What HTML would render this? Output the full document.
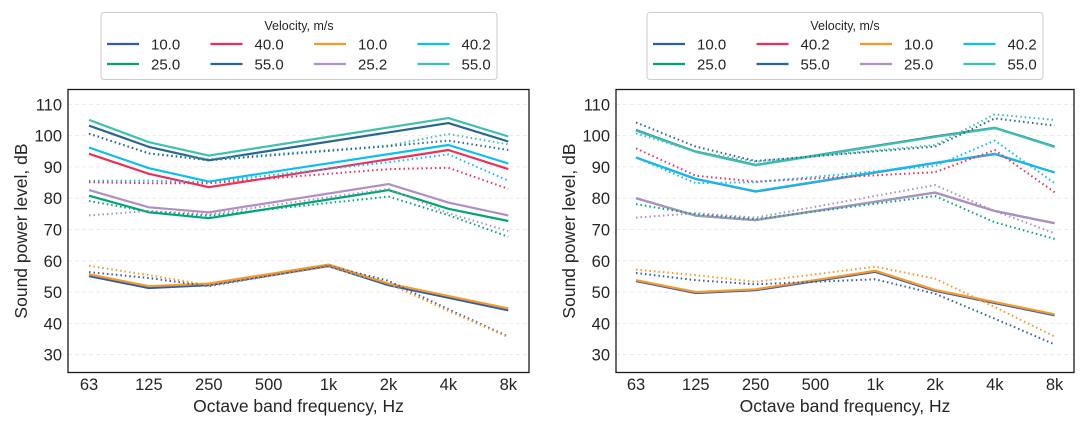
<!DOCTYPE html>
<html><head><meta charset="utf-8"><style>
html,body{margin:0;padding:0;background:#fff;}
svg{display:block;font-family:"Liberation Sans",Arial,sans-serif;}
</style></head><body>
<svg id="s" width="1092" height="423" viewBox="0 0 1092 423" xmlns="http://www.w3.org/2000/svg"></svg>
<script>
const S=document.getElementById('s');let h='';
const C={b:'#2f5ea8',g:'#00a676',r:'#ee3058',d:'#2b6592',o:'#f7992a',p:'#b08fc7',c:'#0abff2',t:'#3ec1b0'};
const F=['63','125','250','500','1k','2k','4k','8k'];
function Y(v){return 104.3+(110-v)*3.13;}
function plot(ax0,ax1,x63,dx,series,leg,lx){
  h+=`<rect x="${ax0}" y="89.5" width="${ax1-ax0}" height="283" fill="#fff"/>`;
  for(let v=30;v<=110;v+=10){h+=`<line x1="${ax0}" x2="${ax1}" y1="${Y(v)}" y2="${Y(v)}" stroke="#e6e6e6" stroke-width="0.8" stroke-dasharray="4,3"/>`;
    h+=`<text x="${ax0-6}" y="${Y(v)+6}" font-size="16.5" text-anchor="end" fill="#262626">${v}</text>`;}
  F.forEach((f,i)=>{h+=`<text x="${x63+i*dx}" y="390" font-size="16.5" text-anchor="middle" fill="#262626">${f}</text>`;});
  series.forEach(s=>{const pts=s[2].map(p=>`${(x63+p[0]*dx).toFixed(1)},${Y(p[1]).toFixed(1)}`).join(' ');
    h+=`<polyline points="${pts}" fill="none" stroke="${C[s[0]]}" stroke-width="${s[1]?2:2.2}" ${s[1]?'stroke-dasharray="1.5,3" stroke-linecap="butt"':''} stroke-linejoin="round"/>`;});
  h+=`<rect x="${ax0}" y="89.5" width="${ax1-ax0}" height="283" fill="none" stroke="#1a1a1a" stroke-width="1.3"/>`;
  h+=`<text x="${(ax0+ax1)/2}" y="412" font-size="17.5" text-anchor="middle" fill="#262626">Octave band frequency, Hz</text>`;
  h+=`<text transform="translate(${ax0-41},231) rotate(-90)" font-size="17.5" text-anchor="middle" fill="#262626">Sound power level, dB</text>`;
  h+=`<rect x="${lx}" y="12.5" width="396" height="67" rx="3" fill="#fff" stroke="#cccccc"/>`;
  h+=`<text x="${lx+198}" y="30" font-size="12.5" text-anchor="middle" fill="#262626">Velocity, m/s</text>`;
  leg.forEach((l,i)=>{const col=Math.floor(i/2),row=i%2;const x=lx+6+col*103.5,y=44+row*20;
    h+=`<line x1="${x}" x2="${x+32}" y1="${y}" y2="${y}" stroke="${C[l[0]]}" stroke-width="2.2"/>`;
    h+=`<text x="${x+44}" y="${y+5.5}" font-size="15" fill="#262626">${l[1]}</text>`;});
}
const L=[
['t',0,[[0,105],[1,97.9],[2,93.6],[6,105.6],[7,99.7]]],
['d',0,[[0,103.2],[1,96.4],[2,92.1],[6,104],[7,98.1]]],
['c',0,[[0,96.2],[1,89.6],[2,85.3],[6,97],[7,91.1]]],
['r',0,[[0,94.2],[1,87.8],[2,83.5],[6,95.4],[7,89.3]]],
['p',0,[[0,82.6],[1,77.1],[2,75.5],[5,84.5],[6,78.6],[7,74.5]]],
['g',0,[[0,80.8],[1,75.5],[2,73.6],[5,82.6],[6,76.6],[7,72.7]]],
['t',1,[[0,100.6],[1,94.3],[2,92.5],[5,96.8],[6,100.5],[7,97.2]]],
['d',1,[[0,100.6],[1,94.3],[2,92.1],[5,96.6],[6,98.4],[7,95.4]]],
['c',1,[[0,85.6],[1,85.6],[2,85.1],[5,91.5],[6,94],[7,85.6]]],
['r',1,[[0,85.1],[1,84.8],[2,84.8],[5,89.3],[6,89.7],[7,83]]],
['p',1,[[0,74.5],[1,75.9],[2,74.9],[5,83],[6,75.2],[7,69.5]]],
['g',1,[[0,79.1],[1,75.7],[2,74.4],[5,80.5],[6,74.6],[7,67.7]]],
['b',0,[[0,55.1],[1,51.3],[2,52.2],[4,58.3],[5,52.2],[7,44.2]]],
['o',0,[[0,55.7],[1,51.9],[2,52.7],[4,58.8],[5,52.7],[7,44.8]]],
['b',1,[[0,56.4],[1,54.5],[2,51.9],[4,58.4],[5,53.6],[6,44.5],[7,35.8]]],
['o',1,[[0,58.4],[1,55.4],[2,52.2],[4,58.1],[5,52.7],[6,44],[7,35.6]]]
];
const R=[
['d',0,[[0,101.8],[1,94.9],[2,90.6],[5,99.7],[6,102.5],[7,96.5]]],
['t',0,[[0,101.6],[1,94.8],[2,90.5],[5,99.6],[6,102.4],[7,96.4]]],
['r',0,[[0,93],[1,86.1],[2,82.1],[5,91.2],[6,94.1],[7,88.2]]],
['c',0,[[0,93],[1,86.2],[2,82.2],[5,91.3],[6,94.2],[7,88.2]]],
['g',0,[[0,80],[1,74.4],[2,73],[5,81.8],[6,75.9],[7,72]]],
['p',0,[[0,80],[1,74.4],[2,73],[5,81.8],[6,75.9],[7,72]]],
['d',1,[[0,104.2],[1,96.5],[2,91.9],[5,96.5],[6,105.5],[7,103.2]]],
['t',1,[[0,100.7],[1,94.9],[2,91.7],[5,97],[6,106.8],[7,105]]],
['r',1,[[0,95.9],[1,87.2],[2,85.3],[5,88.3],[6,95.4],[7,81.9]]],
['c',1,[[0,93],[1,84.8],[2,85.1],[5,90.3],[6,98.4],[7,84.8]]],
['p',1,[[0,73.8],[1,75.2],[2,73.8],[5,84.2],[6,75.9],[7,68.8]]],
['g',1,[[0,78.1],[1,74.9],[2,73.3],[5,80.7],[6,72.3],[7,67]]],
['b',0,[[0,53.5],[1,49.7],[2,50.6],[4,56.5],[5,50.4],[7,42.6]]],
['o',0,[[0,53.8],[1,50],[2,50.9],[4,56.8],[5,50.7],[7,42.9]]],
['b',1,[[0,56.1],[1,53.8],[2,52.5],[4,54.1],[5,49.5],[6,41.5],[7,33.3]]],
['o',1,[[0,57.2],[1,55.4],[2,53.3],[4,58.1],[5,54.3],[6,45.2],[7,35.8]]]
];
plot(68,529,89,59.9,L,[['b','10.0'],['g','25.0'],['r','40.0'],['d','55.0'],['o','10.0'],['p','25.2'],['c','40.2'],['t','55.0']],101);
plot(616,1074,636,59.8,R,[['b','10.0'],['g','25.0'],['r','40.2'],['d','55.0'],['o','10.0'],['p','25.0'],['c','40.2'],['t','55.0']],647);
S.innerHTML=h;
</script>
</body></html>
